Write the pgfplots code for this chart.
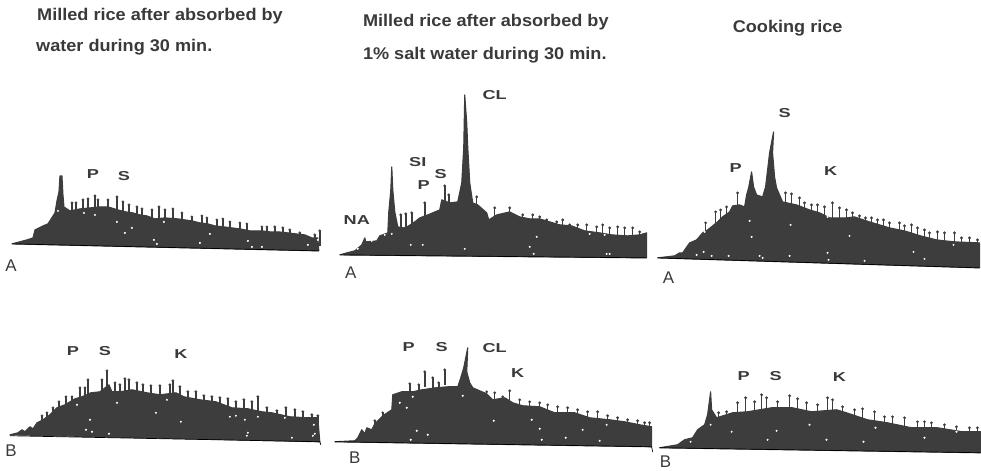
\documentclass[border=0pt]{standalone}
\usepackage{fontspec}
\setmainfont{Liberation Sans}
\usepackage{pgfplots}
\pgfplotsset{compat=1.18}
\definecolor{body}{HTML}{3D3D3D}
\definecolor{ink}{HTML}{3A3A3A}
\tikzset{
  lab/.style={font=\fontsize{13}{14}\selectfont\bfseries, text=ink, inner sep=0pt, xscale=1.4},
  ttl/.style={font=\fontsize{17}{18}\selectfont\bfseries, text=ink, inner sep=0pt, anchor=west, xscale=1.07},
  plet/.style={font=\fontsize{17}{18}\selectfont, text=ink, inner sep=0pt},
  spec/.style={draw=body, fill=body, line width=1.1pt, line join=round, line cap=round},
  base/.style={draw=black, line width=0.7pt},
}
\pgfplotsset{
  whisk/.style={only marks, mark=*, mark size=1.2pt, color=body,
    /pgfplots/error bars/y dir=plus, /pgfplots/error bars/y fixed=15,
    /pgfplots/error bars/error mark=none,
    /pgfplots/error bars/error bar style={line width=1.5pt, color=body}},
  specks/.style={only marks, mark=*, mark size=0.8pt, white, mark options={fill=white, draw=white}},
}
\begin{document}
\begin{tikzpicture}
\begin{axis}[
  scale only axis, width=981bp, height=471bp,
  xmin=0, xmax=981, ymin=0, ymax=471, y dir=reverse,
  hide axis, clip=false,
]
% A1
\addplot[spec] coordinates {(12,244)(27,240)(33,238)(35,230)(43,226)(48,224)(55,213)(57,201)(59,192)(60,176)(62,176)(63,195)(64,207)(70,211)(80,209)(90,208)(100,207)(108,207)(118,210)(126,212)(133,213)(140,215)(147,216)(155,219)(165,218)(178,219)(185,220)(192,221)(200,223)(208,224)(215,226)(224,227)(232,228)(240,229)(250,231)(262,231)(270,232)(279,232)(288,233)(296,234)(305,235)(312,238)(318,238)(319,251)} --cycle;
\addplot[whisk] coordinates {(72,203)(76,203)(83,200)(88,199)(95,196)(98,200)(108,200)(117,197)(123,202)(129,205)(137,207)(142,209)(152,210)(159,207)(165,210)(173,209)(182,213)(192,217)(202,216)(207,218)(217,220)(223,219)(230,222)(240,223)(247,224)(262,227)(267,227)(275,227)(283,228)(290,230)(300,233)(315,235)(320,231)};
\addplot[base] coordinates {(12,244)(319,251)};
\addplot[specks] coordinates {(58,211)(84,213)(95,215)(117,222)(125,233)(132,228)(154,240)(157,244)(164,222)(200,243)(210,234)(248,241)(252,247)(262,247)(308,245)(318,240)};
% A2
\addplot[spec] coordinates {(340,255)(347,253)(355,251)(362,245)(365,238)(366,242)(377,241)(380,236)(388,233)(389,212)(391,190)(392,167)(393,190)(395,212)(398,227)(404,228)(409,226)(415,222)(420,218)(428,215)(440,210)(442,200)(450,203)(458,202)(462,183)(464,147)(465,95)(467,123)(468,147)(470,183)(473,203)(478,205)(487,213)(489,220)(497,215)(510,212)(520,217)(530,219)(540,219)(550,222)(560,225)(572,226)(585,231)(600,233)(612,235)(628,236)(640,235)(647,233)(647,258)} --cycle;
\addplot[whisk] coordinates {(401,215)(406,214)(412,213)(425,203)(445,186)(449,195)(477,197)(495,208)(510,208)(523,215)(533,215)(540,217)(547,220)(557,222)(563,220)(570,225)(578,225)(587,225)(597,227)(603,225)(610,228)(618,227)(625,228)(633,228)(640,232)};
\addplot[base] coordinates {(340,255)(647,258)};
\addplot[specks] coordinates {(392,234)(372,241)(411,245)(423,245)(465,249)(537,237)(530,247)(534,254)(590,234)(605,235)(607,254)(610,254)(385,235)(358,249)};
% A3
\addplot[spec] coordinates {(658,258)(675,256)(680,253)(683,253)(690,243)(697,240)(703,233)(708,230)(718,222)(723,217)(730,212)(733,206)(740,205)(745,207)(747,195)(749,188)(752,172)(754,187)(757,195)(763,197)(766,187)(768,170)(770,153)(774,132)(773,153)(775,177)(777,188)(783,202)(797,205)(810,210)(820,213)(830,218)(847,218)(855,217)(870,222)(890,228)(905,231)(921,236)(937,240)(955,242)(980,243)(980,268)} --cycle;
\addplot[whisk] coordinates {(706,223)(716,212)(721,210)(727,207)(738,193)(786,193)(792,194)(800,198)(805,203)(812,205)(818,205)(825,207)(833,203)(840,208)(847,210)(853,213)(860,216)(866,218)(872,218)(878,220)(884,220)(890,223)(900,223)(905,226)(912,225)(918,228)(925,230)(930,233)(938,232)(945,233)(955,233)(962,238)(970,238)(978,240)};
\addplot[base] coordinates {(658,258)(980,268)};
\addplot[specks] coordinates {(705,232)(697,255)(704,252)(712,256)(729,256)(750,221)(752,237)(760,256)(763,258)(791,225)(790,256)(828,217)(828,253)(829,260)(850,236)(865,261)(914,252)(925,259)(954,245)};
% B1
\addplot[spec] coordinates {(10,435)(18,433)(22,430)(25,432)(30,427)(33,429)(37,423)(43,420)(50,415)(57,408)(65,405)(75,399)(82,397)(91,393)(100,392)(109,385)(112,392)(120,392)(132,390)(147,393)(160,395)(176,393)(184,397)(200,400)(216,402)(232,408)(248,409)(262,412)(272,413)(290,417)(307,418)(318,418)(320,442)} --cycle;
\addplot[whisk] coordinates {(42,416)(47,413)(53,408)(59,402)(66,397)(72,397)(80,388)(85,388)(88,380)(102,380)(107,371)(115,383)(120,385)(125,379)(129,380)(137,383)(143,385)(151,386)(160,386)(170,385)(173,381)(180,387)(188,392)(196,392)(204,396)(212,397)(220,398)(228,399)(236,402)(244,400)(252,402)(258,397)(267,408)(277,411)(286,408)(295,410)(303,412)(312,415)(318,416)};
\addplot[base] coordinates {(10,436)(320,442)(321,445)};
\addplot[specks] coordinates {(77,405)(90,420)(86,430)(92,432)(109,434)(117,403)(156,413)(167,400)(181,422)(230,417)(236,416)(245,420)(248,433)(247,436)(258,417)(285,418)(292,438)(314,425)(315,434)(313,436)};
% B2
\addplot[spec] coordinates {(335,442)(355,441)(358,438)(362,430)(365,434)(367,428)(372,430)(375,424)(383,416)(392,410)(393,395)(402,392)(413,392)(422,390)(436,388)(448,387)(458,387)(461,378)(464,368)(466,358)(468,348)(467,372)(470,383)(473,388)(487,394)(493,400)(505,398)(513,403)(523,406)(540,407)(555,413)(575,413)(590,418)(610,420)(625,422)(640,425)(652,427)(652,447)} --cycle;
\addplot[whisk] coordinates {(375,421)(383,413)(410,384)(419,385)(425,372)(433,378)(439,383)(445,370)(487,392)(495,393)(503,397)(510,391)(520,400)(530,402)(540,403)(548,405)(558,407)(568,408)(578,410)(588,412)(598,412)(608,416)(618,418)(628,420)(638,421)(645,423)(650,423)};
\addplot[base] coordinates {(335,442)(652,447)(653,452)};
\addplot[specks] coordinates {(400,403)(413,397)(407,408)(417,431)(428,435)(411,440)(463,396)(494,421)(532,420)(540,429)(542,440)(566,438)(583,430)(600,441)(620,412)(607,425)};
% B3
\addplot[spec] coordinates {(660,448)(678,445)(685,440)(693,438)(698,430)(705,425)(708,415)(711,392)(712,410)(717,418)(733,413)(748,412)(772,408)(793,408)(812,412)(837,410)(847,413)(868,420)(888,423)(912,428)(938,428)(963,432)(981,432)(981,453)} --cycle;
\addplot[whisk] coordinates {(719,413)(727,412)(738,403)(746,398)(755,402)(762,395)(767,398)(778,402)(790,396)(798,399)(807,403)(818,405)(828,398)(833,400)(843,407)(855,410)(863,409)(875,412)(885,417)(893,417)(905,418)(918,422)(925,422)(932,423)(945,425)(957,427)(970,428)(978,428)};
\addplot[base] coordinates {(660,448)(981,453)};
\addplot[specks] coordinates {(691,442)(711,425)(732,432)(768,440)(777,431)(810,425)(827,440)(876,428)(864,442)(903,423)(925,438)(957,432)};
% texts
\node[ttl] at (axis cs:37,16) {Milled rice after absorbed by};
\node[ttl] at (axis cs:36,47) {water during 30 min.};
\node[ttl] at (axis cs:363,22) {Milled rice after absorbed by};
\node[ttl] at (axis cs:363,55) {1\% salt water during 30 min.};
\node[ttl] at (axis cs:733,28) {Cooking rice};
\node[lab] at (axis cs:93,174) {P};
\node[lab] at (axis cs:124,176) {S};
\node[lab] at (axis cs:73,351) {P};
\node[lab] at (axis cs:105,351) {S};
\node[lab] at (axis cs:181,354) {K};
\node[lab] at (axis cs:357,220) {NA};
\node[lab] at (axis cs:418,162) {SI};
\node[lab] at (axis cs:441,174) {S};
\node[lab] at (axis cs:424,185) {P};
\node[lab] at (axis cs:495,95) {CL};
\node[lab] at (axis cs:409,347) {P};
\node[lab] at (axis cs:442,347) {S};
\node[lab] at (axis cs:495,348) {CL};
\node[lab] at (axis cs:518,373) {K};
\node[lab] at (axis cs:736,168) {P};
\node[lab] at (axis cs:785,113) {S};
\node[lab] at (axis cs:831,171) {K};
\node[lab] at (axis cs:744,376) {P};
\node[lab] at (axis cs:776,376) {S};
\node[lab] at (axis cs:840,377) {K};
\node[plet] at (axis cs:11,266) {A};
\node[plet] at (axis cs:351,273) {A};
\node[plet] at (axis cs:669,278) {A};
\node[plet] at (axis cs:11,451) {B};
\node[plet] at (axis cs:355,458) {B};
\node[plet] at (axis cs:666,462) {B};
\path (axis cs:0,0) -- (axis cs:981,471);
\end{axis}
\end{tikzpicture}
\end{document}
